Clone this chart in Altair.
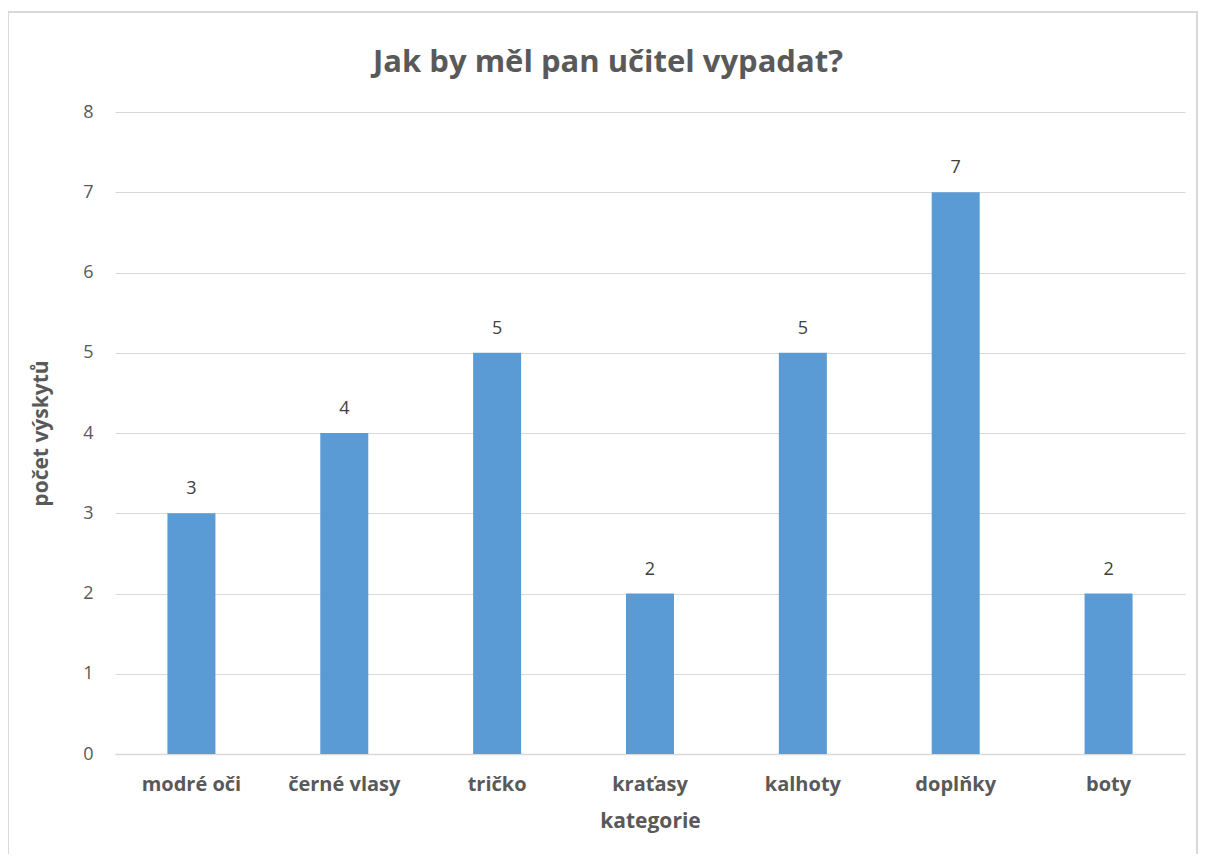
import altair as alt
import pandas as pd

categories = ["modré oči", "černé vlasy", "tričko", "kraťasy", "kalhoty", "doplňky", "boty"]
counts = [3, 4, 5, 2, 5, 7, 2]
title_text = ["Jak by měl pan učitel vypadat?"]

df = pd.DataFrame({"kategorie": categories, "pocet": counts})
one = pd.DataFrame({"t": title_text})

FONT = "Open Sans"
GRAY = "#595959"

base = alt.Chart(df)

x_enc = alt.X(
    "kategorie:N",
    sort=categories,
    scale=alt.Scale(paddingInner=0.686, paddingOuter=0.343),
    axis=alt.Axis(
        title="kategorie",
        labelAngle=0,
        labelFont=FONT,
        labelFontSize=20,
        labelFontWeight="bold",
        labelColor=GRAY,
        labelPadding=20,
        titleFont=FONT,
        titleFontSize=21,
        titleFontWeight="bold",
        titleColor=GRAY,
        titlePadding=16,
        ticks=False,
        domainColor="#d9d9d9",
        domainWidth=1.5,
        grid=False,
    ),
)

y_enc = alt.Y(
    "pocet:Q",
    scale=alt.Scale(domain=[0, 8]),
    axis=alt.Axis(
        title="počet výskytů",
        values=[0, 1, 2, 3, 4, 5, 6, 7, 8],
        format="d",
        labelFont=FONT,
        labelFontSize=18,
        labelColor=GRAY,
        labelPadding=22,
        titleFont=FONT,
        titleFontSize=21,
        titleFontWeight="bold",
        titleColor=GRAY,
        titlePadding=31,
        ticks=False,
        domain=False,
        gridColor="#d9d9d9",
        gridWidth=1,
    ),
)

bars = base.mark_bar(color="#5B9BD5").encode(x=x_enc, y=y_enc)

labels = base.mark_text(
    dy=-24, font=FONT, fontSize=18, color="#404040"
).encode(
    x=alt.X("kategorie:N", sort=categories),
    y=alt.Y("pocet:Q"),
    text="pocet:Q",
)

border = alt.Chart(one).mark_rect(
    fill="transparent", stroke="#d9d9d9", strokeWidth=2
).encode(
    x=alt.value(-107),
    x2=alt.value(1082),
    y=alt.value(-100),
    y2=alt.value(780),
)

title = alt.Chart(one).mark_text(
    font=FONT, fontSize=31, fontWeight="bold", color=GRAY, align="center", baseline="alphabetic"
).encode(
    text="t:N",
    x=alt.value(493),
    y=alt.value(-40),
)

chart = (
    alt.layer(border, bars, labels, title)
    .properties(
        width=1070,
        height=642,
        autosize=alt.AutoSizeParams(type="none"),
        padding={"left": 107, "top": 104, "right": 13, "bottom": 100},
        view=alt.ViewBackground(stroke="transparent", strokeWidth=0),
    )
    .configure_view(strokeWidth=0, stroke="transparent")
    .configure(background="white")
)

chart.save("out.html", embed_options={"renderer": "svg", "actions": False})
